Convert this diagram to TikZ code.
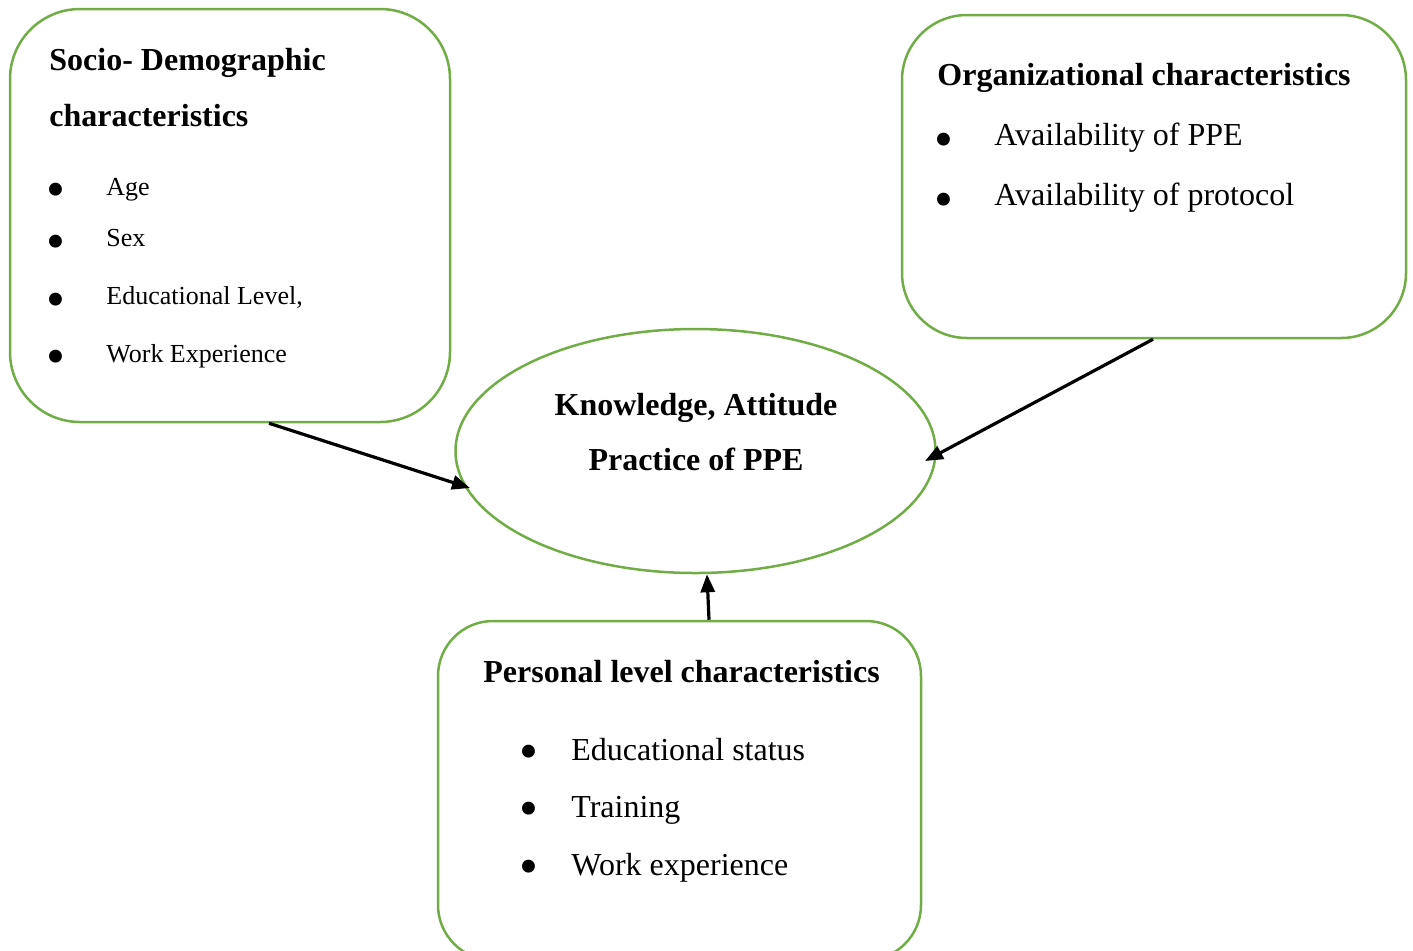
\documentclass[tikz,border=0pt]{standalone}
\usepackage{fontspec}
\setmainfont{Liberation Serif}
\usetikzlibrary{shapes.geometric,calc,arrows.meta}
\definecolor{boxgreen}{RGB}{112,173,71}
\begin{document}
\begin{tikzpicture}[x=0.5pt,y=-0.5pt,
  box/.style={draw=boxgreen,line width=1.25pt,rectangle,inner sep=0pt},
  ovalnode/.style={draw=boxgreen,line width=1.25pt,ellipse,inner sep=0pt,minimum width=240pt,minimum height=122pt},
  title/.style={anchor=base west,inner sep=0pt,font=\fontsize{16}{19}\selectfont\bfseries},
  ctitle/.style={anchor=base,inner sep=0pt,font=\fontsize{16}{19}\selectfont\bfseries},
  item/.style={anchor=base west,inner sep=0pt,font=\fontsize{16}{19}\selectfont},
  smallitem/.style={anchor=base west,inner sep=0pt,font=\fontsize{13}{16}\selectfont},
  bul/.style={anchor=center,inner sep=0pt,font=\fontsize{27}{27}\selectfont},
  arr/.style={draw=black,line width=1.6pt,-{Triangle[length=9pt,width=7pt]}}]
\useasboundingbox (0,0) rectangle (1413,950);
\clip (0,0) rectangle (1413,950);
% boxes
\node[box,rounded corners=35pt,minimum width=220pt,minimum height=206.5pt] (box1) at (230,215.5) {};
\node[box,rounded corners=32.5pt,minimum width=252pt,minimum height=161.5pt] (box2) at (1154,176.5) {};
\node[box,rounded corners=27.5pt,minimum width=241.5pt,minimum height=169.5pt] (box3) at (679.5,790.5) {};
\node[ovalnode] (ell) at (695.5,451) {};
% box 1 text
\node[title] (t1a) at (49,70) {Socio- Demographic};
\node[title] (t1b) at (49,126) {characteristics};
\node[bul] (b1a) at (56,195) {\textbullet};
\node[bul] (b1b) at (56,247) {\textbullet};
\node[bul] (b1c) at (56,305) {\textbullet};
\node[bul] (b1d) at (56,362) {\textbullet};
\node[smallitem] (i1a) at (106,195) {Age};
\node[smallitem] (i1b) at (106,246) {Sex};
\node[smallitem] (i1c) at (106,304) {Educational Level,};
\node[smallitem] (i1d) at (106,362) {Work Experience};
% box 2 text
\node[title] (t2) at (937,85) {Organizational characteristics};
\node[bul] (b2a) at (944,145) {\textbullet};
\node[bul] (b2b) at (944,205) {\textbullet};
\node[item] (i2a) at (994,145) {Availability of PPE};
\node[item] (i2b) at (994,205) {Availability of protocol};
% ellipse text
\node[ctitle] (e1) at (696,415) {Knowledge, Attitude};
\node[ctitle] (e2) at (696,470) {Practice of PPE};
% box 3 text
\node[title] (t3) at (483,682) {Personal level characteristics};
\node[bul] (b3a) at (529,757) {\textbullet};
\node[bul] (b3b) at (529,814) {\textbullet};
\node[bul] (b3c) at (529,872) {\textbullet};
\node[item] (i3a) at (571,760) {Educational status};
\node[item] (i3b) at (571,817) {Training};
\node[item] (i3c) at (571,875) {Work experience};
% arrows
\draw[arr] ($(box1.south)+(39,0)$) -- ($(ell.center)+(-225.5,37)$);
\draw[arr] ($(box2.south)+(-1,0)$) -- ($(ell.center)+(229.5,10)$);
\draw[arr] ($(box3.north)+(29.5,0)$) -- ($(ell.south)+(11.5,0)$);
\end{tikzpicture}
\end{document}
